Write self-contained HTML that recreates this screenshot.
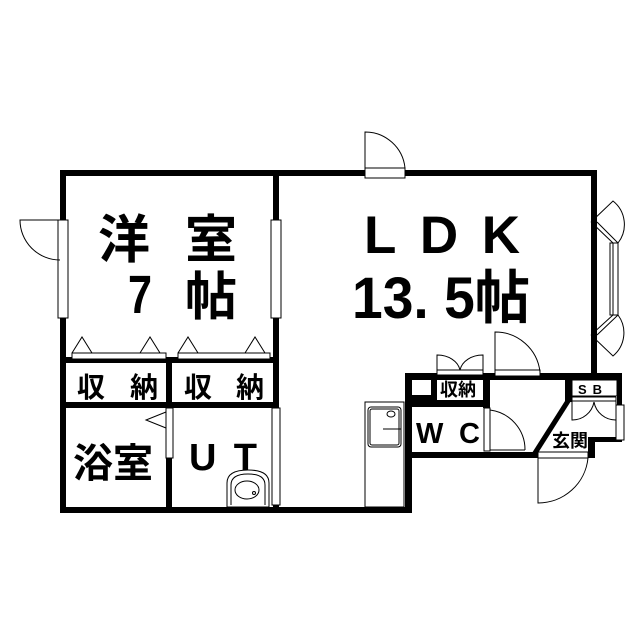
<!DOCTYPE html>
<html><head><meta charset="utf-8"><style>html,body{margin:0;padding:0;background:#fff}svg{display:block}
text{font-family:"Liberation Sans","Noto Sans CJK JP",sans-serif;fill:#000;font-weight:bold}</style></head><body>
<svg width="639" height="640" viewBox="0 0 639 640" xmlns="http://www.w3.org/2000/svg">
<g fill="#000">
<rect x="60" y="170" width="537" height="6"/>
<rect x="60" y="170" width="6" height="343"/>
<rect x="60" y="507" width="352" height="6"/>
<rect x="591" y="170" width="6" height="210"/>
<rect x="273" y="170" width="6" height="343"/>
<rect x="66" y="357" width="207" height="6"/>
<rect x="66" y="402" width="207" height="6"/>
<rect x="166" y="357" width="6" height="151"/>
<rect x="405" y="373" width="217" height="7"/>
<rect x="405" y="373" width="7" height="140"/>
<rect x="405" y="373" width="32" height="27"/>
<rect x="483" y="373" width="7" height="35"/>
<rect x="405" y="400" width="85" height="7"/>
<rect x="405" y="452" width="133" height="6"/>
<rect x="565" y="373" width="7" height="29"/>
<rect x="617" y="373" width="5" height="69"/>
<rect x="588" y="437" width="34" height="5"/>
<rect x="588" y="437" width="7" height="21"/>
</g>
<rect x="412" y="380" width="19" height="15" fill="#fff"/>
<polygon points="565,401 571,401 538,453 532,453" fill="#000"/>
<g fill="#fff" stroke="#000" stroke-width="1">
<rect x="365" y="168" width="40" height="10"/>
<rect x="58" y="220" width="10" height="98"/>
<rect x="271" y="220" width="10" height="98"/>
<rect x="272" y="408" width="8" height="97"/>
<rect x="166" y="408" width="7" height="50"/>
<rect x="484" y="408" width="6" height="43"/>
<rect x="538" y="452" width="50" height="6"/>
<rect x="616" y="405" width="8" height="35"/>
<rect x="495" y="370" width="45" height="6"/>
<rect x="437" y="370" width="46" height="5"/>
<rect x="72" y="353" width="94" height="6"/>
<rect x="178" y="353" width="92" height="6"/>
</g>
<g fill="none" stroke="#000" stroke-width="1">
<path d="M365 168 V132 A40 40 0 0 1 405 168"/>
<path d="M60 220 H20 A40 40 0 0 0 60 260"/>
<path d="M72 353 L82 337 L92 353 M140 353 L150 337 L160 353 M178 353 L188 337 L198 353 M245 353 L255 337 L265 353"/>
<path d="M166 412 L146 420 L166 428"/>
<path d="M495 370 V332 A45 45 0 0 1 540 372"/>
<path d="M437 370 V355 A23 18 0 0 1 460 370 M483 370 V355 A23 18 0 0 0 460 370"/>
<path d="M490 410 A40 40 0 0 1 525 450 M490 450 H525"/>
<path d="M538 458 V503 A50 50 0 0 0 588 458"/>
<rect x="572" y="380" width="45" height="16"/>
<path d="M572 397 H616 M572 401 H616 M572 397 V420 A22 22 0 0 0 594 402 M616 397 V420 A22 22 0 0 1 594 402"/>
<path d="M591 222 L613 243 M597 222 L618 243 M591 335 L613 315 M597 335 L618 315"/>
<rect x="610" y="243" width="8" height="72" fill="#fff"/>
<path d="M613 243 V315"/>
<path d="M591 222 L613 201 A30 30 0 0 1 618 243 M591 335 L613 356 A30 30 0 0 0 618 315"/>
<rect x="365" y="402" width="39" height="105"/>
<rect x="368" y="407" width="33" height="40" rx="3"/>
<rect x="370" y="409" width="29" height="36" rx="2"/>
<ellipse cx="391" cy="414" rx="4" ry="3"/>
<path d="M383 429 H401"/>
<path d="M227 507 V483 Q227 470 248 470 Q269 470 269 483 V507 Z"/>
<path d="M231 505 V485 Q231 474 248 474 Q265 474 265 485 V505"/>
<ellipse cx="247" cy="490" rx="12" ry="9"/>
<circle cx="254" cy="493" r="1.5"/>
</g>
<text x="98" y="258" font-size="52">洋</text>
<text x="185" y="258" font-size="52">室</text>
<text x="128" y="313" font-size="54" transform="translate(128 0) scale(0.8 1) translate(-128 0)">7</text>
<text x="185" y="315" font-size="52">帖</text>
<text x="364" y="253" font-size="53" font-weight="normal" textLength="156" lengthAdjust="spacing">LDK</text>
<text x="352" y="318" font-size="58" textLength="178" lengthAdjust="spacingAndGlyphs">13. 5帖</text>
<text x="77" y="397" font-size="28">収</text><text x="130" y="397" font-size="28">納</text>
<text x="184" y="397" font-size="28">収</text><text x="236" y="397" font-size="28">納</text>
<text x="73" y="477" font-size="40">浴室</text>
<text x="189" y="470" font-size="38" font-weight="normal" textLength="68" lengthAdjust="spacing">UT</text>
<text x="440" y="396" font-size="18">収納</text>
<text x="416" y="443" font-size="29" textLength="64" lengthAdjust="spacing">WC</text>
<text x="552" y="447" font-size="18">玄関</text>
<text x="578" y="394" font-size="13" font-weight="normal" letter-spacing="6">SB</text>
</svg>
</body></html>
